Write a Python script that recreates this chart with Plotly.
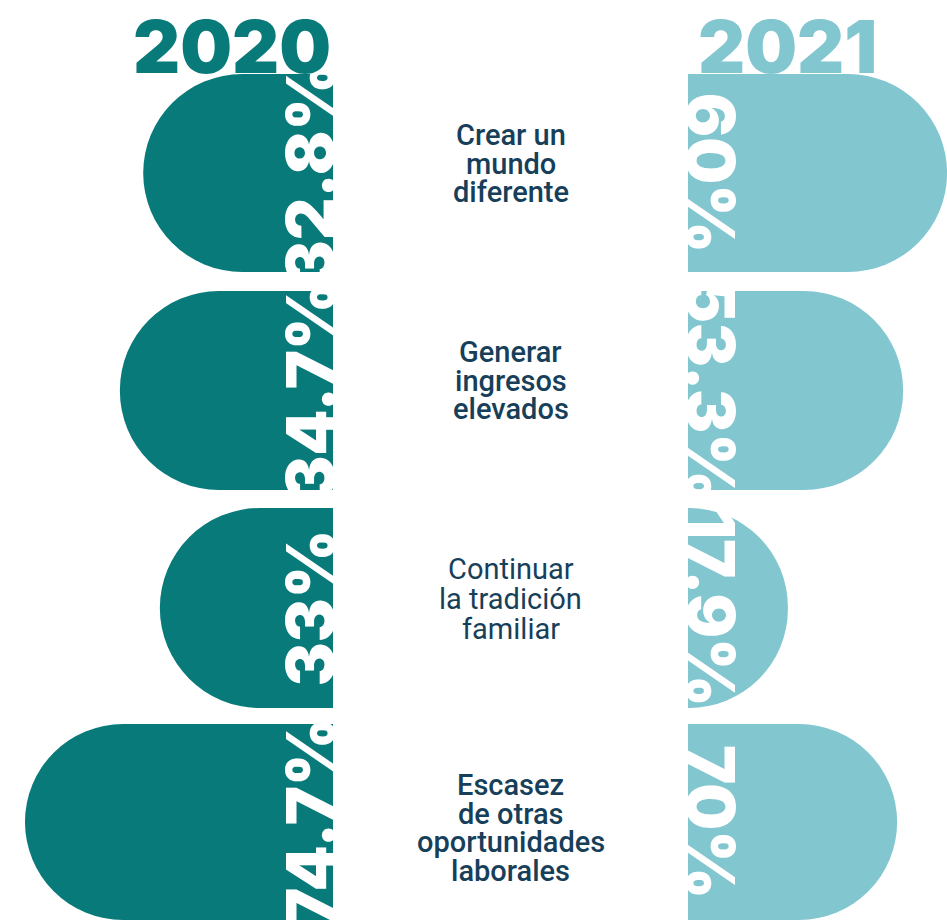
import plotly.graph_objects as go

# data
categories = [
    ["Crear un", "mundo", "diferente"],
    ["Generar", "ingresos", "elevados"],
    ["Continuar", "la tradición", "familiar"],
    ["Escasez", "de otras", "oportunidades", "laborales"],
]
years = ["2020", "2021"]
pct_2020 = [32.8, 34.7, 33, 74.7]
pct_2021 = [60, 53.3, 17.9, 70]
# drawn bar lengths (100 = width of the 2020 panel)
shown_2020 = [57, 64, 52, 92.5]
shown_2021 = [77.8, 64.6, 30, 62.8]

TEAL = "#087A7A"
LIGHT = "#82C6D0"
NAVY = "#173F5A"
W, H = 947, 920
BIG = "Inter"

# panel geometry in px
rows_px = [(74, 272), (291, 490), (508, 708), (724, 920)]
left_px = (0, 333)
right_px = (688, 947)
unit = 333 / 100  # px per unit
text_pad = 6      # pushes the rotated % labels onto the bar base

fig = go.Figure()
layout = {}

for i, (top, bot) in enumerate(rows_px):
    ydom = [1 - bot / H, 1 - top / H]
    for side in range(2):
        k = i * 2 + side + 1
        xa = "x" if k == 1 else f"x{k}"
        ya = "y" if k == 1 else f"y{k}"
        if side == 0:
            val, pct, col, ang = shown_2020[i], pct_2020[i], TEAL, -90
            xdom = [left_px[0] / W, left_px[1] / W]
            xrange = [(left_px[1] - left_px[0]) / unit, 0]
        else:
            val, pct, col, ang = shown_2021[i], pct_2021[i], LIGHT, 90
            xdom = [right_px[0] / W, right_px[1] / W]
            xrange = [0, (right_px[1] - right_px[0]) / unit]

        # pill bar: only the far end gets rounded (no explicit base)
        fig.add_trace(go.Bar(
            x=[val], y=[0], width=1, orientation="h",
            marker=dict(color=col, cornerradius="50%", line_width=0),
            xaxis=xa, yaxis=ya, hoverinfo="skip", showlegend=False,
        ))
        # transparent twin that carries the rotated % label
        fig.add_trace(go.Bar(
            x=[val + text_pad], y=[0], base=-text_pad, width=1, orientation="h",
            marker=dict(color="rgba(0,0,0,0)", line_width=0),
            text=[f"{pct:g}%"], textposition="inside", insidetextanchor="start",
            textangle=ang, constraintext="none", cliponaxis=True,
            textfont=dict(family=BIG, size=66, color="white", weight=900),
            xaxis=xa, yaxis=ya, hoverinfo="skip", showlegend=False,
        ))
        layout[xa.replace("x", "xaxis")] = dict(
            domain=xdom, range=xrange, visible=False, fixedrange=True)
        layout[ya.replace("y", "yaxis")] = dict(
            domain=ydom, range=[-0.5, 0.5], visible=False, fixedrange=True)

annotations = []
# year headers
annotations.append(dict(
    text=years[0], x=left_px[1] / W, y=1 - rows_px[0][0] / H,
    xanchor="right", yanchor="bottom", yshift=-19,
    font=dict(family=BIG, size=73, color=TEAL, weight=900),
))
annotations.append(dict(
    text=years[1], x=(right_px[0] + 8) / W, y=1 - rows_px[0][0] / H,
    xanchor="left", yanchor="bottom", yshift=-19,
    font=dict(family=BIG, size=73, color=LIGHT, weight=900),
))

# category labels in the middle
mid = (left_px[1] + right_px[0]) / 2 / W
for i, lines in enumerate(categories):
    top = rows_px[i][0]
    weight = 400 if i == 2 else 500
    step = 30 if i == 2 else 28.7
    for j, line in enumerate(lines):
        annotations.append(dict(
            text=line, x=mid, y=1 - (top + 61 + j * step) / H,
            xanchor="center", yanchor="middle",
            font=dict(family="Roboto", size=29, color=NAVY, weight=weight),
        ))

for a in annotations:
    a.update(xref="paper", yref="paper", showarrow=False)

fig.update_layout(
    **layout,
    annotations=annotations,
    barmode="overlay",
    width=W, height=H,
    margin=dict(l=0, r=0, t=0, b=0),
    paper_bgcolor="white", plot_bgcolor="rgba(0,0,0,0)",
    showlegend=False,
)

fig.write_html(
    "out.html",
    config={"displayModeBar": False},
    post_script="document.body.style.margin='0';",
)
